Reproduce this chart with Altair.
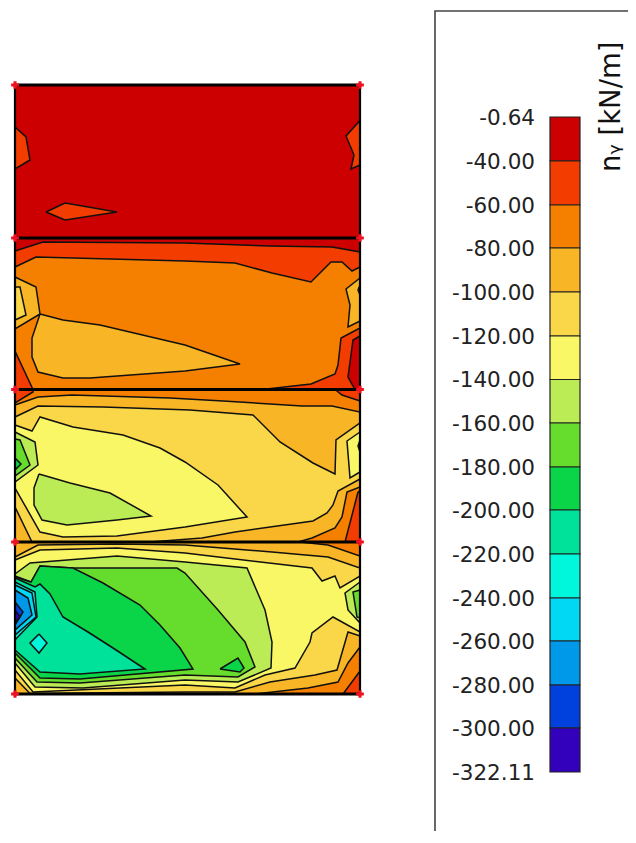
import altair as alt
import pandas as pd

# Colour classes of the legend, top to bottom
LEVELS = ["-0.64", "-40.00", "-60.00", "-80.00", "-100.00", "-120.00", "-140.00", "-160.00",
          "-180.00", "-200.00", "-220.00", "-240.00", "-260.00", "-280.00", "-300.00", "-322.11"]
COLORS = ["#CC0000", "#F23C00", "#F58000", "#F8B526", "#FAD748", "#F9F765", "#BCEC55", "#66DD2D",
          "#0AD548", "#00E19A", "#00F7DC", "#00D8F4", "#0098E8", "#0040DC", "#3300BB"]
LEVEL_Y = [117, 161, 205, 248, 292, 336, 379.5, 423, 467, 510, 554, 598, 641, 685, 728, 772]
C = dict(zip("abcdefghijklmno", COLORS))

EDGE_X = [15, 360]
EDGE_Y = [85, 238, 389.5, 542, 694]

# Iso-areas, painted in this order: (colour class, outline)
PANEL1 = [
    ("a", [(15, 85), (360, 85), (360, 238), (15, 238)]),
    ("b", [(15, 127), (26, 137), (30, 160), (15, 169)]),
    ("b", [(46, 212), (65, 203), (117, 212), (65, 220)]),
    ("b", [(360, 120.5), (346, 136), (354, 155), (351, 169), (360, 165)]),
]
PANEL2 = [
    ("a", [(15, 238), (360, 238), (360, 389.5), (15, 389.5)]),
    ("b", [(15, 251), (43, 242), (185, 243), (270, 246), (332, 247), (360, 252), (360, 389.5), (15, 389.5)]),
    ("c", [(15, 267), (36, 257), (185, 261), (235, 263), (272, 273), (311, 282), (331, 262), (342, 262),
           (352, 271), (360, 267), (360, 328), (341, 338), (338, 365), (335, 374), (311, 384), (262, 389.5),
           (33, 389.5), (15, 351)]),
    ("a", [(360, 336), (353, 340), (348, 377), (355, 389.5), (360, 389.5)]),
    ("d", [(15, 277), (36, 287), (40, 314), (15, 329)]),
    ("e", [(15, 287), (20, 287), (26, 315), (15, 320)]),
    ("d", [(40, 314), (63, 320), (100, 325), (185, 345), (240, 364), (185, 371), (90, 378), (63, 378),
           (38, 372), (32, 357), (32, 338)]),
    ("d", [(360, 278), (346, 289), (350, 305), (348, 327), (360, 321)]),
    ("e", [(360, 285), (358, 290), (360, 295)]),
]
PANEL3 = [
    ("c", [(15, 389.5), (360, 389.5), (360, 542), (15, 542)]),
    ("b", [(15, 389.5), (33, 389.5), (33, 392), (15, 403)]),
    ("b", [(335, 389.5), (360, 389.5), (360, 401), (342, 395)]),
    ("d", [(15, 405), (38, 397), (72, 395), (170, 398), (223, 401), (302, 406), (332, 406), (360, 412),
           (360, 487), (347, 492), (342, 517), (335, 528), (312, 538), (298, 542), (15, 542)]),
    ("b", [(358, 492), (345, 542), (360, 542), (360, 491)]),
    ("e", [(15, 417), (38, 406), (103, 407), (190, 410), (253, 415), (280, 442), (313, 463), (335, 474),
           (336, 440), (360, 423), (360, 479), (338, 491), (333, 505), (327, 513), (313, 521), (235, 532),
           (202, 538), (150, 542), (32, 542), (15, 507)]),
    ("f", [(15, 425), (32, 431), (40, 417), (73, 427), (123, 435), (160, 448), (185, 462), (218, 485),
           (247, 517), (185, 527), (117, 536), (63, 537), (40, 532), (15, 488)]),
    ("g", [(15, 432), (35, 442), (38, 465), (15, 482)]),
    ("h", [(15, 439), (20, 440), (30, 465), (15, 476)]),
    ("i", [(15, 458), (21, 464), (15, 470)]),
    ("g", [(39, 474), (70, 483), (110, 493), (151, 516), (117, 520), (67, 525), (42, 520), (34, 505), (34, 488)]),
    ("f", [(360, 432), (347, 441), (350, 478), (360, 472)]),
    ("g", [(360, 440), (358, 446), (360, 452)]),
]
PANEL4 = [
    ("c", [(15, 542), (360, 542), (360, 694), (15, 694)]),
    ("d", [(15, 542), (300, 542), (328, 545), (360, 556), (360, 647), (348, 663), (338, 682), (308, 688),
           (255, 694), (15, 694)]),
    ("b", [(360, 671), (343, 694), (360, 694)]),
    ("e", [(15, 557), (38, 545), (117, 544), (185, 545), (272, 552), (328, 557), (360, 568), (360, 636),
           (348, 632), (337, 670), (315, 675), (270, 682), (235, 692), (185, 692), (30, 693.5), (15, 678)]),
    ("f", [(15, 560), (40, 550), (117, 548), (185, 553), (312, 568), (322, 581), (335, 576), (340, 588),
           (360, 576), (360, 632), (333, 617), (312, 633), (310, 642), (295, 668), (265, 675), (235, 688),
           (185, 685), (33, 692), (15, 670)]),
    ("g", [(15, 574), (30, 563), (117, 556), (185, 562), (247, 568), (265, 610), (272, 642), (271, 668),
           (238, 682), (185, 680), (83, 688), (35, 687), (15, 663)]),
    ("h", [(15, 576), (31, 582), (40, 566), (73, 568), (177, 568), (185, 573), (218, 610), (245, 642),
           (255, 667), (238, 677), (185, 675), (80, 683), (37, 682), (15, 658)]),
    ("i", [(15, 577), (31, 582), (40, 566), (73, 568), (103, 583), (140, 605), (160, 625), (180, 648),
           (193, 669), (80, 679), (40, 678), (15, 653)]),
    ("i", [(220, 669), (238, 658), (244, 668), (240, 672)]),
    ("j", [(15, 578), (35, 587), (40, 584), (50, 594), (63, 617), (88, 632), (113, 648), (145, 669),
           (80, 674), (40, 672), (15, 650)]),
    ("k", [(15, 582), (35, 592), (37, 617), (15, 640)]),
    ("l", [(15, 585), (32, 593), (36, 617), (15, 635)]),
    ("m", [(15, 590), (28, 598), (32, 615), (15, 630)]),
    ("n", [(15, 602), (23, 612), (15, 625)]),
    ("o", [(15, 610), (20, 617), (15, 622)]),
    ("k", [(39, 634), (47, 643), (39, 653), (30, 643)]),
    ("g", [(360, 582), (345, 593), (348, 610), (360, 623)]),
    ("h", [(360, 590), (353, 592), (357, 617), (360, 618)]),
]

X = alt.X("x:Q", scale=alt.Scale(domain=[8, 628]), axis=None)
Y = alt.Y("y:Q", scale=alt.Scale(domain=[831, 8]), axis=None)

layers = []
for key, pts in PANEL1 + PANEL2 + PANEL3 + PANEL4:
    ring = pts + [pts[0]]
    df = pd.DataFrame({"x": [p[0] for p in ring], "y": [p[1] for p in ring], "i": range(len(ring))})
    layers.append(alt.Chart(df).mark_line(fill=C[key], stroke="#111111", strokeWidth=1.5, strokeJoin="miter")
                  .encode(x=X, y=Y, order=alt.Order("i:Q")))

# Frame of the wall panels
hf = pd.DataFrame({"y": EDGE_Y, "x": [EDGE_X[0]] * 5, "x2": [EDGE_X[1]] * 5})
layers.append(alt.Chart(hf).mark_rule(color="#000000", strokeWidth=2.8).encode(x=X, x2="x2:Q", y=Y))
vf = pd.DataFrame({"x": EDGE_X, "y": [EDGE_Y[0]] * 2, "y2": [EDGE_Y[-1]] * 2})
layers.append(alt.Chart(vf).mark_rule(color="#000000", strokeWidth=2.2).encode(x=X, y=Y, y2="y2:Q"))

# Red node markers
nodes = pd.DataFrame([{"x": a, "y": b} for a in EDGE_X for b in EDGE_Y])
layers.append(alt.Chart(nodes).mark_point(shape="cross", filled=True, color="#EE1122", size=60, opacity=1)
              .encode(x=X, y=Y))

# Legend box
box = pd.DataFrame({"x": [628, 435, 435], "y": [11, 11, 831], "i": [0, 1, 2]})
layers.append(alt.Chart(box).mark_line(color="#444444", strokeWidth=1.6).encode(x=X, y=Y, order=alt.Order("i:Q")))

# Legend colour bar
bar = pd.DataFrame({"x": [550] * 15, "x2": [580] * 15, "y": LEVEL_Y[:-1], "y2": LEVEL_Y[1:], "c": COLORS})
layers.append(alt.Chart(bar).mark_rect(stroke="#222222", strokeWidth=1.2)
              .encode(x=X, x2="x2:Q", y=Y, y2="y2:Q", fill=alt.Fill("c:N", scale=None)))
labs = pd.DataFrame({"x": [535] * 16, "y": LEVEL_Y, "t": LEVELS})
layers.append(alt.Chart(labs).mark_text(align="right", baseline="middle", dy=1.5, font="DejaVu Sans", fontSize=21.5,
                                        color="#222222").encode(x=X, y=Y, text="t:N"))
ttl = pd.DataFrame({"x": [612], "y": [172], "t": ["n\u1d67 [kN/m]"]})
layers.append(alt.Chart(ttl).mark_text(align="left", baseline="middle", angle=270, font="DejaVu Sans", fontSize=27.5,
                                       color="#111111").encode(x=X, y=Y, text="t:N"))

chart = alt.layer(*layers).properties(width=620, height=823, padding=0, background="white",
                                      autosize=alt.AutoSizeParams(type="none")).configure_view(stroke=None)
chart.save("out.html", embed_options={"renderer": "svg", "actions": False})
